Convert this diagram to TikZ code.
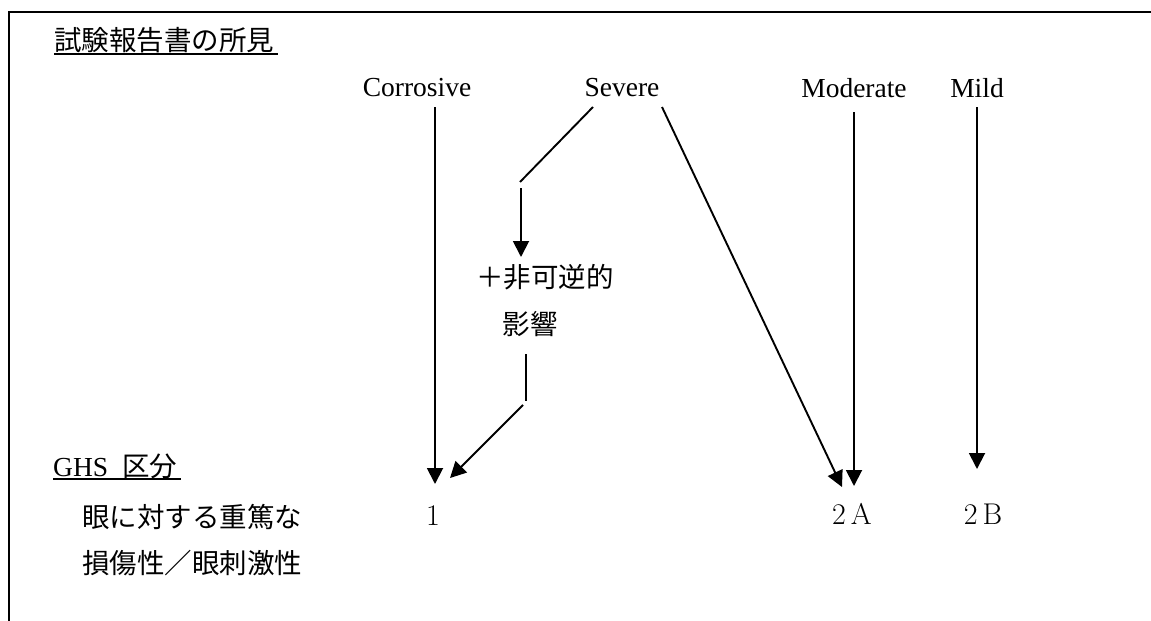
\documentclass[tikz,border=0pt]{standalone}
\usepackage{fontspec}
\setmainfont{Liberation Serif}
\newfontfamily\jp{Noto Sans CJK JP}
\newfontfamily\lmr{Latin Modern Roman}
\usetikzlibrary{arrows.meta}
\begin{document}
\begin{tikzpicture}[x=1pt,y=-1pt,
  lbl/.style={inner sep=0pt, font=\fontsize{27.5}{33}\selectfont},
  jlbl/.style={inner sep=0pt, font=\fontsize{27.5}{33}\selectfont\jp},
  numlbl/.style={inner sep=0pt, font=\fontsize{30}{33}\selectfont\lmr},
  ln/.style={line width=1.9pt},
  uline/.style={line width=1.6pt},
  arr/.style={line width=1.9pt, -{Triangle[length=16pt,width=16pt]}}]
\useasboundingbox (0,0) rectangle (1151,621);
\draw[ln] (1151,12) -- (9,12) -- (9,621);

% headings
\node[jlbl, anchor=west] (title) at (54,40) {試験報告書の所見};
\coordinate (t1) at (54,54); \coordinate (t2) at (278,54);
\draw[uline] (t1) -- (t2);

\node[lbl, anchor=west] (ghs) at (53,466) {GHS\hspace{14pt}{\jp\fontsize{27.5}{33}\selectfont 区分}};
\coordinate (g1) at (53,479); \coordinate (g2) at (181,479);
\draw[uline] (g1) -- (g2);

\node[jlbl, anchor=west] (eye1) at (82,517) {眼に対する重篤な};
\node[jlbl, anchor=west] (eye2) at (82,563) {損傷性／眼刺激性};

% test result labels
\node[lbl] (cor) at (417,88) {Corrosive};
\node[lbl] (sev) at (622,88) {Severe};
\node[lbl] (mod) at (854,88) {Moderate};
\node[lbl] (mild) at (977,88) {Mild};

\node[jlbl] (irr) at (545,277) {＋非可逆的};
\node[jlbl] (eff) at (530,324) {影響};

% categories
\node[numlbl] (c1) at (433,516) {1};
\node[numlbl] (c2a) at (852,514) {2\hspace{5pt}A};
\node[numlbl] (c2b) at (983,514) {2\hspace{5pt}B};

% connector points
\coordinate (corS) at (435,107); \coordinate (corE) at (435,484);
\coordinate (sevL) at (593,107); \coordinate (bend1) at (520,182);
\coordinate (a1s) at (521,188); \coordinate (a1e) at (521,257);
\coordinate (b1) at (526,354); \coordinate (b2) at (526,401);
\coordinate (b3) at (523,405); \coordinate (b4) at (450,478);
\coordinate (sevR) at (662,107); \coordinate (sevRE) at (842,487);
\coordinate (modS) at (854,112); \coordinate (modE) at (854,486);
\coordinate (mildS) at (977,107); \coordinate (mildE) at (977,469);

\draw[arr] (corS) -- (corE);
\draw[ln] (sevL) -- (bend1);
\draw[arr] (a1s) -- (a1e);
\draw[ln] (b1) -- (b2);
\draw[arr] (b3) -- (b4);
\draw[arr] (sevR) -- (sevRE);
\draw[arr] (modS) -- (modE);
\draw[arr] (mildS) -- (mildE);
\end{tikzpicture}
\end{document}
